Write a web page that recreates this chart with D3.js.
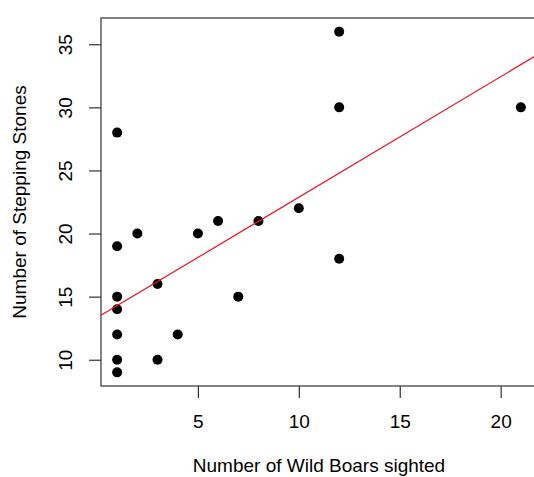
<!DOCTYPE html>
<html>
<head>
<meta charset="utf-8">
<script src="https://cdn.jsdelivr.net/npm/d3@7"></script>
<style>
  body { margin: 0; background: #fff; }
  text { font-family: "Liberation Sans", Arial, sans-serif; fill: #000; }
</style>
</head>
<body>
<div id="plot"></div>
<script>

var boars  = [1, 1, 1, 1, 1, 1, 1, 2, 3, 3, 4, 5, 6, 7, 8, 10, 12, 12, 12, 21];
var stones = [28, 19, 15, 14, 12, 10, 9, 20, 16, 10, 12, 20, 21, 15, 21, 22, 36, 30, 18, 30];

var xTicks = [5, 10, 15, 20];
var yTicks = [10, 15, 20, 25, 30, 35];

// fitted line
var fitIntercept = 13.33;
var fitSlope     = 0.955;

var xLabel = "Number of Wild Boars sighted";
var yLabel = "Number of Stepping Stones";


var width  = 534;
var height = 477;
var margin = {top: 18, right: -3, bottom: 91, left: 101};

//......................... R style padded domain ...............................
function padded(values){
  var ext = d3.extent(values);
  var pad = (ext[1] - ext[0]) * 0.04;
  return [ext[0] - pad, ext[1] + pad];
}
//-------------------------------------------------------------------------------

var x = d3.scaleLinear()
  .domain(padded(boars))
  .range([margin.left, width - margin.right]);

var y = d3.scaleLinear()
  .domain(padded(stones))
  .range([height - margin.bottom, margin.top]);

var svg = d3.select("#plot")
  .append("svg")
    .attr("width", width)
    .attr("height", height);

svg.append("defs")
  .append("clipPath")
    .attr("id", "clip")
  .append("rect")
    .attr("x", x.range()[0])
    .attr("y", y.range()[1])
    .attr("width", x.range()[1] - x.range()[0])
    .attr("height", y.range()[0] - y.range()[1]);

// x axis
var xAxis = svg.append("g")
  .attr("transform", "translate(0," + y.range()[0] + ")")
  .call(d3.axisBottom(x).tickValues(xTicks).tickSize(12).tickPadding(17).tickFormat(d3.format("d")));

// y axis
var yAxis = svg.append("g")
  .attr("transform", "translate(" + x.range()[0] + ",0)")
  .call(d3.axisLeft(y).tickValues(yTicks).tickSize(12).tickFormat(d3.format("d")));

xAxis.select(".domain").remove();
yAxis.select(".domain").remove();
svg.selectAll(".tick line").attr("stroke", "#333").attr("stroke-width", 1.2);
xAxis.selectAll("text").attr("font-size", 19).attr("fill", "#000");

yAxis.selectAll("text")
  .attr("font-size", 19)
  .attr("fill", "#000")
  .attr("text-anchor", "middle")
  .attr("x", null)
  .attr("dy", null)
  .attr("transform", "translate(-29,0) rotate(-90)");

// plot box
svg.append("rect")
  .attr("x", x.range()[0])
  .attr("y", y.range()[1])
  .attr("width", x.range()[1] - x.range()[0])
  .attr("height", y.range()[0] - y.range()[1])
  .attr("fill", "none")
  .attr("stroke", "#333")
  .attr("stroke-width", 1.2);

// points
svg.append("g")
  .selectAll("circle")
  .data(d3.zip(boars, stones))
  .enter()
  .append("circle")
    .attr("cx", function(d){ return x(d[0]); })
    .attr("cy", function(d){ return y(d[1]); })
    .attr("r", 5)
    .attr("fill", "#000");

// regression line, clipped to the plot region
var xd = x.domain();
svg.append("line")
  .attr("clip-path", "url(#clip)")
  .attr("x1", x(xd[0]))
  .attr("y1", y(fitIntercept + fitSlope * xd[0]))
  .attr("x2", x(xd[1]))
  .attr("y2", y(fitIntercept + fitSlope * xd[1]))
  .attr("stroke", "#e8141e")
  .attr("stroke-width", 1.2);

// axis titles
svg.append("text")
  .attr("x", (x.range()[0] + x.range()[1]) / 2)
  .attr("y", 472)
  .attr("text-anchor", "middle")
  .attr("font-size", 19)
  .text(xLabel);

svg.append("text")
  .attr("transform", "translate(26," + (y.range()[0] + y.range()[1]) / 2 + ") rotate(-90)")
  .attr("text-anchor", "middle")
  .attr("font-size", 19)
  .text(yLabel);

</script>
</body>
</html>
